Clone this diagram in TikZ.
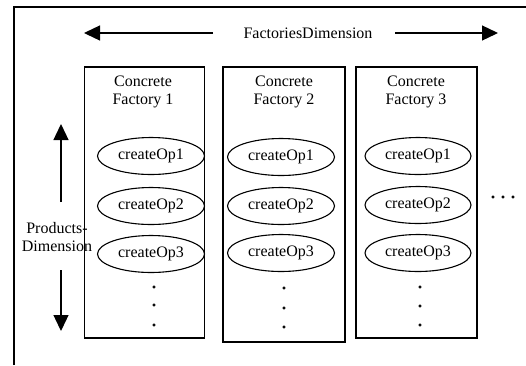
\documentclass[tikz,border=0pt]{standalone}
\usepackage{fontspec}
\setmainfont{Liberation Serif}
\usetikzlibrary{arrows.meta,shapes.geometric}
\begin{document}
\begin{tikzpicture}[x=1pt, y=-1pt, font=\fontsize{16}{18}\selectfont,
  fbox/.style={draw, line width=1.4pt, minimum width=120pt, minimum height=271pt, inner sep=0pt},
  op/.style={draw, ellipse, line width=1.1pt, minimum width=107pt, minimum height=37pt, inner sep=0pt},
  dimarrow/.style={-{Triangle[length=16pt,width=15pt]}, line width=1.3pt}]
\useasboundingbox (0,0) rectangle (526,365);
\draw[line width=1.4pt] (14,365) -- (14,7) -- (526,7);
\node (fdim) at (308,33) {FactoriesDimension};
\coordinate (hl0) at (213,33);
\coordinate (hl1) at (84,33);
\coordinate (hr0) at (395,33);
\coordinate (hr1) at (498,33);
\draw[dimarrow] (hl0) -- (hl1);
\draw[dimarrow] (hr0) -- (hr1);
\node[align=center] (pdim) at (57,237) {Products-\\Dimension};
\coordinate (vt0) at (61,202);
\coordinate (vt1) at (61,124);
\coordinate (vb0) at (61,270);
\coordinate (vb1) at (61,331);
\draw[dimarrow] (vt0) -- (vt1);
\draw[dimarrow] (vb0) -- (vb1);
\node[fbox] (f1) at (144.5,202.5) {};
\node[fbox, minimum width=122pt, minimum height=275pt] (f2) at (284,204.5) {};
\node[fbox, minimum width=121pt] (f3) at (416.5,202.5) {};
\node[align=center] (t1) at (143,92) {Concrete\\Factory 1};
\node[align=center] (t2) at (284,92) {Concrete\\Factory 2};
\node[align=center] (t3) at (416,92) {Concrete\\Factory 3};
\node[op] (o11) at (151,156) {createOp1};
\node[op] (o12) at (151,206) {createOp2};
\node[op] (o13) at (151,254) {createOp3};
\node[op] (o21) at (281,157) {createOp1};
\node[op] (o22) at (281,206) {createOp2};
\node[op] (o23) at (281,253) {createOp3};
\node[op, minimum width=106pt] (o31) at (418,156) {createOp1};
\node[op, minimum width=106pt] (o32) at (418,205) {createOp2};
\node[op, minimum width=106pt] (o33) at (418,253) {createOp3};
\filldraw (154,287) circle (1.3pt) (154,305) circle (1.3pt) (154,325) circle (1.3pt);
\filldraw (284,288) circle (1.3pt) (284,308) circle (1.3pt) (284,327) circle (1.3pt);
\filldraw (420,287) circle (1.3pt) (420,306) circle (1.3pt) (420,325) circle (1.3pt);
\filldraw (493,197) circle (1.3pt) (503,197) circle (1.3pt) (513,197) circle (1.3pt);
\end{tikzpicture}
\end{document}
